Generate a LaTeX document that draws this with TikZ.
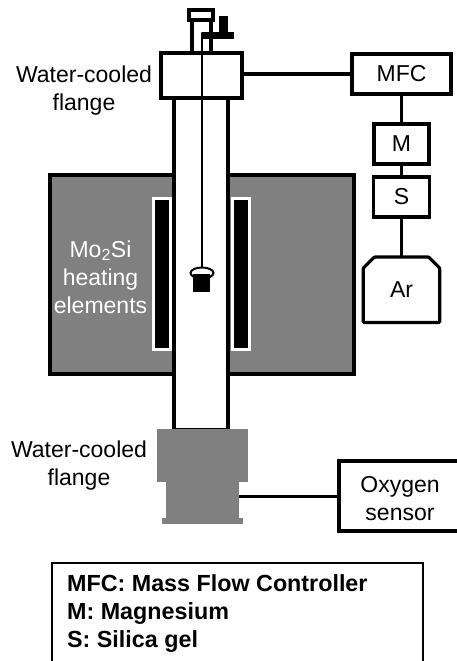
\documentclass[tikz,border=0pt]{standalone}
\usepackage{fontspec}
\setmainfont{Liberation Sans}
\usetikzlibrary{shapes, arrows, positioning}

\tikzset{
	box/.style={draw, rectangle, line width=3.2pt, inner sep=0pt, outer sep=0pt, fill=white},
	blackbar/.style={rectangle, fill=black, inner sep=0pt, outer sep=0pt},
	whitebar/.style={draw=white, fill=black, rectangle, line width=3pt, inner sep=0pt, outer sep=0pt, minimum width=17pt, minimum height=151pt},
	flange/.style={rectangle, fill=flangegray, inner sep=0pt, outer sep=0pt},
	pipe/.style={line width=3pt},
	lbl/.style={font=\fontsize{23}{28}\selectfont, align=center, inner sep=0pt}
}
\definecolor{flangegray}{HTML}{808080}

\begin{document}
\begin{tikzpicture}[x=1pt, y=-1pt]
	\useasboundingbox (0,0) rectangle (457,661);
	% furnace
	\node [box, fill=flangegray, minimum width=304pt, minimum height=199pt] (furnace) at (202,274.5) {};
	\node [box, minimum width=54pt, minimum height=332pt] (tube) at (201,264) {};
	\node [whitebar] (heatl) at (161.5,273.5) {};
	\node [whitebar] (heatr) at (241,273.5) {};
	\node [lbl, text=white] (heatlbl) at (100.5,277) {Mo\textsubscript{2}Si\\heating\\elements};
	% top of the tube
	\node [box, minimum width=19pt, minimum height=40pt] (neck) at (201.5,35) {};
	\node [box, minimum width=24pt, minimum height=10pt] (cap) at (201,15) {};
	\node [box, minimum width=81pt, minimum height=45pt] (topflange) at (201.5,75.5) {};
	\node [blackbar, minimum width=32pt, minimum height=7pt] (bar) at (218,35.5) {};
	\node [blackbar, minimum width=9pt, minimum height=16pt, above= 0pt of bar, xshift=5.5pt] (knob) {};
	\node [draw, ellipse, line width=2pt, fill=white, inner sep=0pt, minimum width=23pt, minimum height=11pt] (dome) at (202,273) {};
	\node [blackbar, minimum width=17pt, minimum height=18pt] (crucible) at (201.5,283) {};
	\draw [line width=1.5pt, rounded corners=3pt] (bar.west) -| (dome.north);
	% bottom flange
	\node [flange, minimum width=91pt, minimum height=53pt] (botflange) at (202.5,455.5) {};
	\node [flange, minimum width=73pt, minimum height=36pt, below= 0pt of botflange] (botneck) {};
	\node [flange, minimum width=81pt, minimum height=6pt, below= 0pt of botneck] (botfoot) {};
	\node [lbl] (toplbl) at (84,91) {Water-cooled\\flange};
	\node [lbl] (botlbl) at (79,466) {Water-cooled\\flange};
	% gas line
	\node [box, lbl, minimum width=99pt, minimum height=40pt] (mfc) at (401.5,74) {MFC};
	\node [box, lbl, minimum width=55pt, minimum height=40pt, below= 30pt of mfc] (mg) {M};
	\node [box, lbl, minimum width=56pt, minimum height=40pt, below= 13pt of mg] (sg) {S};
	\node [lbl, minimum width=76pt, minimum height=65pt, below= 40pt of sg] (ar) {};
	\draw [box, rounded corners=1pt] (ar.south west) -- ([yshift=-11pt]ar.north west) -- ([xshift=11pt]ar.north west) -- ([xshift=-11pt]ar.north east) -- ([yshift=-11pt]ar.north east) -- (ar.south east) -- cycle;
	\node [lbl] (arlbl) at (ar) {Ar};
	\draw [pipe] (topflange.east |- mfc) -- (mfc);
	\draw [pipe] (mfc) -- (mg);
	\draw [pipe] (mg) -- (sg);
	\draw [pipe] (sg) -- (ar.north);
	% oxygen
	\node [box, minimum width=124pt, minimum height=70pt] (oxy) at (401,496) {};
	\node [lbl] (oxylbl) at (400,499) {Oxygen\\sensor};
	\draw [pipe] (botneck.east |- oxy) -- (oxy);
	% legend
	\draw [line width=1.5pt] (52,661) |- (423,563) -- (423,661);
	\node [font=\fontsize{23.3}{28}\selectfont\bfseries, align=left, anchor=north west, inner sep=0pt] (legend) at (67,574) {MFC: Mass Flow Controller\\M: Magnesium\\S: Silica gel};
\end{tikzpicture}
\end{document}
